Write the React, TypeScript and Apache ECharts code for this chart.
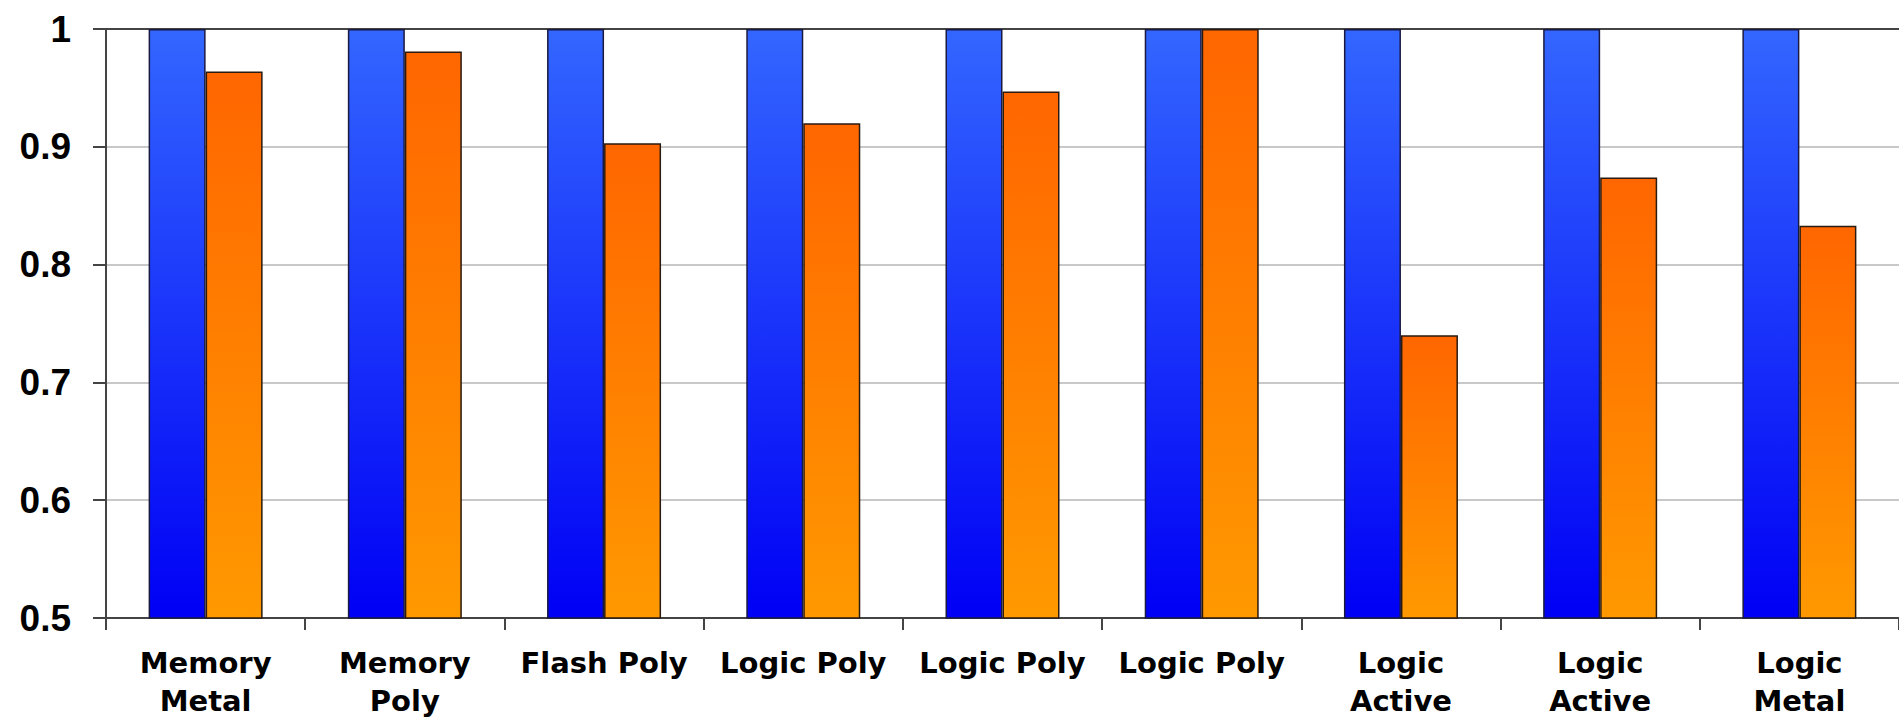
import React, { useEffect, useRef } from "react";
import * as echarts from "echarts";

const categories = [
  "Memory\nMetal",
  "Memory\nPoly",
  "Flash Poly",
  "Logic Poly",
  "Logic Poly",
  "Logic Poly",
  "Logic\nActive",
  "Logic\nActive",
  "Logic\nMetal",
];
const baselineValues = [1, 1, 1, 1, 1, 1, 1, 1, 1];
const measuredValues = [0.964, 0.981, 0.903, 0.92, 0.947, 1.0, 0.74, 0.874, 0.833];
const yTicks = [0.5, 0.6, 0.7, 0.8, 0.9, 1];

export default function App() {
  const ref = useRef<HTMLDivElement>(null);
  useEffect(() => {
    if (!ref.current) return;
    const chart = echarts.init(ref.current, null, { renderer: "svg" });
    const blue = new echarts.graphic.LinearGradient(0, 0, 0, 1, [
      { offset: 0, color: "#3366FF" },
      { offset: 1, color: "#0000F5" },
    ]);
    const orange = new echarts.graphic.LinearGradient(0, 0, 0, 1, [
      { offset: 0, color: "#FF6600" },
      { offset: 1, color: "#FF9900" },
    ]);
    chart.setOption({
      animation: false,
      backgroundColor: "#ffffff",
      grid: { left: 106, top: 29, bottom: 103, right: -7, containLabel: false },
      xAxis: [
        {
          type: "category",
          data: categories,
          position: "bottom",
          axisLine: { show: true, lineStyle: { color: "#444", width: 2 } },
          axisTick: { show: true, length: 12, alignWithLabel: false, lineStyle: { color: "#444", width: 2 } },
          axisLabel: {
            interval: 0,
            margin: 26,
            fontFamily: "DejaVu Sans",
            fontWeight: "bold",
            fontSize: 29,
            lineHeight: 38,
            color: "#000",
          },
          splitLine: { show: false },
        },
        {
          type: "category",
          data: categories,
          position: "top",
          axisLine: { show: true, lineStyle: { color: "#444", width: 2 } },
          axisTick: { show: false },
          axisLabel: { show: false },
          splitLine: { show: false },
        },
      ],
      yAxis: {
        type: "value",
        min: yTicks[0],
        max: yTicks[yTicks.length - 1],
        interval: 0.1,
        axisLine: { show: true, lineStyle: { color: "#444", width: 2 } },
        axisTick: { show: true, length: 13, inside: false, lineStyle: { color: "#444", width: 2 } },
        axisLabel: {
          margin: 35,
          fontFamily: "Arial",
          fontWeight: "bold",
          fontSize: 37,
          color: "#000",
          formatter: (v: number) => String(Math.round(v * 10) / 10),
        },
        splitLine: { show: true, lineStyle: { color: "#c8c8c8", width: 2 } },
      },
      series: [
        {
          type: "bar",
          data: baselineValues,
          barWidth: 57,
          barGap: "0%",
          itemStyle: { color: blue, borderColor: "#1a1a40", borderWidth: 1.5 },
        },
        {
          type: "bar",
          data: measuredValues,
          barWidth: 57,
          barGap: "0%",
          itemStyle: { color: orange, borderColor: "#2a1a10", borderWidth: 1.5 },
        },
      ],
    });
    return () => chart.dispose();
  }, []);
  return (
    <div
      ref={ref}
      style={{ position: "absolute", left: 0, top: 0, width: 1899, height: 721, background: "#fff" }}
    />
  );
}
